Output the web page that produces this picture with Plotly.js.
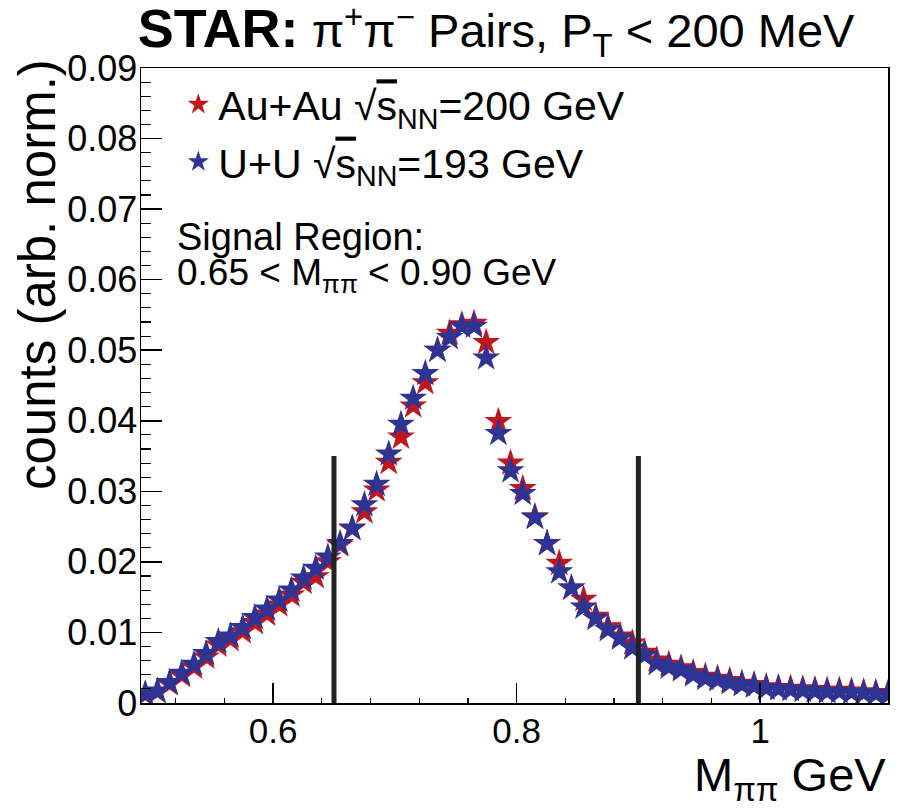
<!DOCTYPE html>
<html>
<head>
<meta charset="utf-8">
<script src="https://cdn.plot.ly/plotly-3.0.1.min.js"></script>
<style>html,body{margin:0;padding:0;background:#fff;}#chart{width:897px;height:808px;}</style>
</head>
<body>
<div id="chart"></div>
<script>
// Bin centres of M_pipi (GeV)
const massBins = [
  0.495,0.505,0.515,0.525,0.535,0.545,0.555,0.565,0.575,0.585,
  0.595,0.605,0.615,0.625,0.635,0.645,0.655,0.665,0.675,0.685,
  0.695,0.705,0.715,0.725,0.735,0.745,0.755,0.765,0.775,0.785,
  0.795,0.805,0.815,0.825,0.835,0.845,0.855,0.865,0.875,0.885,
  0.895,0.905,0.915,0.925,0.935,0.945,0.955,0.965,0.975,0.985,
  0.995,1.005,1.015,1.025,1.035,1.045,1.055,1.065,1.075,1.085,
  1.095,1.105
];
// Au+Au sqrt(sNN)=200 GeV
const auauCounts = [
  0.0012,0.0016,0.0027,0.0039,0.0051,0.0065,0.0082,0.0090,0.0101,0.0114,
  0.0126,0.0139,0.0153,0.0171,0.0179,0.0200,0.0224,0.0247,0.0271,0.0302,
  0.0341,0.0377,0.0421,0.0454,0.0500,0.0524,0.0536,0.0538,0.0511,0.0399,
  0.0340,0.0304,0.0264,0.0226,0.0198,0.0163,0.0147,0.0123,0.0108,0.0095,
  0.0085,0.0072,0.0061,0.0055,0.0050,0.0043,0.0038,0.0035,0.0032,0.0028,
  0.0026,0.0023,0.0022,0.0021,0.0020,0.0019,0.0018,0.0018,0.0017,0.0016,
  0.0015,0.0014
];
// U+U sqrt(sNN)=193 GeV
const uuCounts = [
  0.0013,0.0017,0.0029,0.0042,0.0055,0.0070,0.0087,0.0095,0.0107,0.0121,
  0.0133,0.0146,0.0160,0.0177,0.0191,0.0207,0.0226,0.0248,0.0281,0.0310,
  0.0353,0.0395,0.0432,0.0467,0.0500,0.0518,0.0534,0.0534,0.0489,0.0382,
  0.0329,0.0297,0.0263,0.0226,0.0186,0.0163,0.0136,0.0120,0.0104,0.0092,
  0.0078,0.0068,0.0056,0.0051,0.0047,0.0040,0.0035,0.0033,0.0029,0.0026,
  0.0024,0.0021,0.0020,0.0019,0.0018,0.0017,0.0016,0.0016,0.0015,0.0014,
  0.0013,0.0012
];
const signalRegion = [0.65, 0.90];
const signalLineTop = 0.035;
const xTickVals = [0.6, 0.8, 1.0];
const xTickText = ['0.6', '0.8', '1'];
const yTickVals = [0, 0.01, 0.02, 0.03, 0.04, 0.05, 0.06, 0.07, 0.08, 0.09];
const yTickText = ['0', '0.01', '0.02', '0.03', '0.04', '0.05', '0.06', '0.07', '0.08', '0.09'];

const FONT = 'Liberation Sans, Arial, Helvetica, sans-serif';
const sqrtS = '√<span style="text-decoration:overline">s</span><sub>NN</sub>';

const traces = [
  {
    x: massBins, y: auauCounts, type: 'scatter', mode: 'markers',
    name: 'Au+Au ' + sqrtS + '=200 GeV', legendgroup: 'a',
    marker: {symbol: 'star', size: 21, color: '#c0161d', line: {width: 0}}
  },
  {
    x: massBins, y: uuCounts, type: 'scatter', mode: 'markers',
    name: 'U+U ' + sqrtS + '=193 GeV', legendgroup: 'b',
    marker: {symbol: 'star', size: 21, color: '#2d3494', line: {width: 0}}
  }
];

const shapes = signalRegion.map(v => ({
  type: 'line', xref: 'x', yref: 'y', x0: v, x1: v, y0: 0, y1: signalLineTop,
  line: {color: '#222222', width: 5}, layer: 'above'
}));

const layout = {
  width: 897, height: 808,
  margin: {l: 141, r: 9, t: 68, b: 105},
  paper_bgcolor: '#ffffff', plot_bgcolor: '#ffffff',
  font: {family: FONT, color: '#000000'},
  showlegend: true,
  legend: {
    x: 0.05, y: 0.995, xanchor: 'left', yanchor: 'top',
    bgcolor: 'rgba(0,0,0,0)', borderwidth: 0,
    font: {family: FONT, size: 41, color: '#000000'},
    itemsizing: 'trace', traceorder: 'grouped', tracegroupgap: 1
  },
  title: {
    text: '<span style="font-size:54px"><b>STAR:</b></span> π<sup>+</sup>π<sup>−</sup> Pairs, P<sub>T</sub> &lt; 200 MeV',
    font: {family: FONT, size: 47, color: '#000000'},
    x: 496 / 897, xanchor: 'center', xref: 'container',
    y: 1 - 31 / 808, yanchor: 'middle', yref: 'container'
  },
  xaxis: {
    range: [0.4915, 1.105], showgrid: false, zeroline: false,
    showline: true, linecolor: '#000000', linewidth: 1.5, mirror: true,
    ticks: 'inside', ticklen: 20, tickwidth: 1.5, tickcolor: '#000000',
    tickvals: xTickVals, ticktext: xTickText,
    minor: {dtick: 0.04, tick0: 0, ticks: 'inside', ticklen: 5, tickwidth: 1.2, tickcolor: '#000000', showgrid: false},
    tickfont: {family: FONT, size: 35, color: '#000000'},
    ticklabelstandoff: -4
  },
  yaxis: {
    range: [0, 0.09], showgrid: false, zeroline: false,
    showline: true, linecolor: '#000000', linewidth: 1.5, mirror: true,
    ticks: 'inside', ticklen: 21, tickwidth: 1.5, tickcolor: '#000000',
    tickvals: yTickVals, ticktext: yTickText,
    minor: {dtick: 0.002, tick0: 0, ticks: 'inside', ticklen: 10, tickwidth: 1.2, tickcolor: '#000000', showgrid: false},
    tickfont: {family: FONT, size: 36, color: '#000000'},
    ticklabelstandoff: -5
  },
  shapes: shapes,
  annotations: [
    {
      text: 'counts (arb. norm.)', textangle: -90,
      xref: 'paper', yref: 'paper', x: (37 - 141) / 747, y: (703 - 275) / 635,
      xanchor: 'center', yanchor: 'middle', showarrow: false,
      font: {family: FONT, size: 51, color: '#000000'}
    },
    {
      text: 'M<sub>ππ</sub> GeV',
      xref: 'paper', yref: 'paper', x: 1, y: (703 - 778) / 635,
      xanchor: 'right', yanchor: 'middle', showarrow: false,
      font: {family: FONT, size: 47, color: '#000000'}
    },
    {
      text: 'Signal Region:',
      xref: 'paper', yref: 'paper', x: (175 - 141) / 747, y: (703 - 237) / 635,
      xanchor: 'left', yanchor: 'middle', showarrow: false,
      font: {family: FONT, size: 38, color: '#000000'}
    },
    {
      text: '0.65 &lt; M<sub>ππ</sub> &lt; 0.90 GeV',
      xref: 'paper', yref: 'paper', x: (175 - 141) / 747, y: (703 - 275) / 635,
      xanchor: 'left', yanchor: 'middle', showarrow: false,
      font: {family: FONT, size: 37, color: '#000000'}
    }
  ]
};

Plotly.newPlot('chart', traces, layout, {displayModeBar: false, staticPlot: true});
</script>
</body>
</html>
